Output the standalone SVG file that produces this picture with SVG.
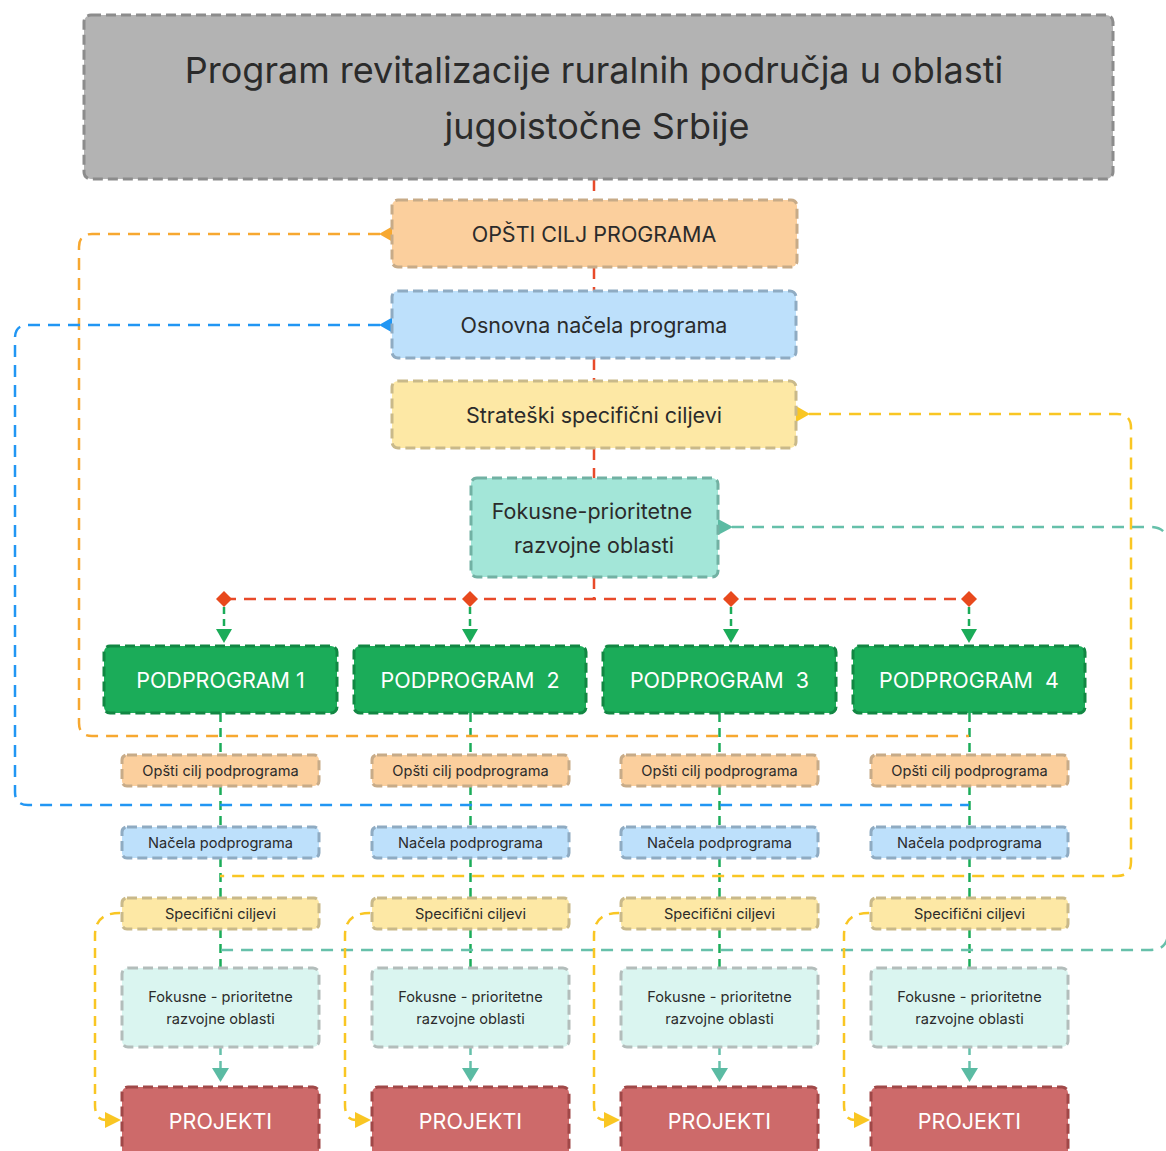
<svg xmlns="http://www.w3.org/2000/svg" width="1166" height="1151" viewBox="0 0 1166 1151">
<defs>
<style>
text{font-family:Inter,"Noto Sans","Liberation Sans",sans-serif;text-anchor:middle;dominant-baseline:central;fill:#2b2b2b}
.nd{stroke-width:3;stroke-dasharray:10 5}
.title{fill:#b3b3b3;stroke:#8c8c8c}
.opc{fill:#fbcf9d;stroke:#c7ab88}
.nac{fill:#bde0fb;stroke:#8fabc2}
.str{fill:#fde8a5;stroke:#c9b98a}
.fok{fill:#a3e6d8;stroke:#72b1a3}
.pod{fill:#1bac59;stroke:#128743}
.fks{fill:#daf5f0;stroke:#b3bdbb}
.prj{fill:#cd6a6a;stroke:#a04848}
.w{fill:#ffffff}
.c{fill:none;stroke-width:2.5;stroke-dasharray:12 8}
.red{stroke:#e84a2a}
.grn{stroke:#1bac59}
.org{stroke:#f7a830}
.blu{stroke:#2196f3}
.yel{stroke:#f9c623}
.tel{stroke:#66c0aa}
.big{font-size:21.5px}
.sm{font-size:14.6px}
</style>
</defs>

<g id="connectors">
  <path class="c red" d="M594,179 V200 M594,267 V291 M594,358 V381 M594,448 V478 M594,577 V599"/>
  <path class="c red" d="M224,599 H969"/>
  <g fill="#e8491d">
    <polygon points="224,591 232,599 224,607 216,599"/>
    <polygon points="470,591 478,599 470,607 462,599"/>
    <polygon points="731,591 739,599 731,607 723,599"/>
    <polygon points="969,591 977,599 969,607 961,599"/>
  </g>
  <path class="c grn" style="stroke-dasharray:7 5" d="M224,607 V630 M470,607 V630 M731,607 V630 M969,607 V630"/>
  <g fill="#1bac59">
    <polygon points="216,629 232,629 224,643"/>
    <polygon points="462,629 478,629 470,643"/>
    <polygon points="723,629 739,629 731,643"/>
    <polygon points="961,629 977,629 969,643"/>
  </g>
  <path class="c grn" style="stroke-dasharray:9 6" d="M220.5,713 V755 M220.5,786 V827 M220.5,858 V898 M220.5,929 V968"/>
  <path class="c grn" style="stroke-dasharray:9 6" d="M470.5,713 V755 M470.5,786 V827 M470.5,858 V898 M470.5,929 V968"/>
  <path class="c grn" style="stroke-dasharray:9 6" d="M719.5,713 V755 M719.5,786 V827 M719.5,858 V898 M719.5,929 V968"/>
  <path class="c grn" style="stroke-dasharray:9 6" d="M969.5,713 V755 M969.5,786 V827 M969.5,858 V898 M969.5,929 V968"/>
  <path class="c tel" style="stroke-dasharray:8 6" d="M220.5,1047 V1068 M470.5,1047 V1068 M719.5,1047 V1068 M969.5,1047 V1068"/>
  <g fill="#5bbba3">
    <polygon points="212,1068 229,1068 220.5,1082"/>
    <polygon points="462,1068 479,1068 470.5,1082"/>
    <polygon points="711,1068 728,1068 719.5,1082"/>
    <polygon points="961,1068 978,1068 969.5,1082"/>
  </g>
  <path class="c org" d="M380,234 H92 Q79,234 79,247 V723 Q79,736 92,736 H969"/>
  <polygon points="379,234 393,226 393,242" fill="#f7a830"/>
  <path class="c blu" d="M380,325 H28 Q15,325 15,338 V792 Q15,805 28,805 H969"/>
  <polygon points="379,325 393,317 393,333" fill="#2196f3"/>
  <path class="c yel" d="M809,414 H1117 Q1131,414 1131,428 V862 Q1131,876 1117,876 H220"/>
  <polygon points="810,414 796,406 796,422" fill="#f9c623"/>
  <path class="c tel" d="M732,527 H1150 Q1168,527 1168,545 V932 Q1168,950 1150,950 H220"/>
  <polygon points="733,527 718,519 718,535" fill="#5bbba3"/>
  <g>
    <path class="c yel" style="stroke-dasharray:10 7" d="M120,913 Q95,913 95,935 V1105 Q95,1120 106,1120"/>
    <polygon points="105,1112 121,1120 105,1128" fill="#f9c623"/>
    <path class="c yel" style="stroke-dasharray:10 7" d="M370,913 Q345,913 345,935 V1105 Q345,1120 356,1120"/>
    <polygon points="355,1112 371,1120 355,1128" fill="#f9c623"/>
    <path class="c yel" style="stroke-dasharray:10 7" d="M619,913 Q594,913 594,935 V1105 Q594,1120 605,1120"/>
    <polygon points="604,1112 620,1120 604,1128" fill="#f9c623"/>
    <path class="c yel" style="stroke-dasharray:10 7" d="M869,913 Q844,913 844,935 V1105 Q844,1120 855,1120"/>
    <polygon points="854,1112 870,1120 854,1128" fill="#f9c623"/>
  </g>
</g>

<g id="title">
  <rect class="nd title" x="84" y="15" width="1029" height="164" rx="7"/>
  <text x="594" y="70" style="font-size:36px">Program revitalizacije ruralnih područja u oblasti</text>
  <text x="597" y="126" style="font-size:36px">jugoistočne Srbije</text>
</g>
<g id="opsti-cilj">
  <rect class="nd opc" x="392" y="200" width="405" height="67" rx="6"/>
  <text class="big" x="594" y="234">OPŠTI CILJ PROGRAMA</text>
</g>
<g id="osnovna-nacela">
  <rect class="nd nac" x="392" y="291" width="404" height="67" rx="6"/>
  <text class="big" x="594" y="325">Osnovna načela programa</text>
</g>
<g id="strateski">
  <rect class="nd str" x="392" y="381" width="404" height="67" rx="6"/>
  <text class="big" x="594" y="415">Strateški specifični ciljevi</text>
</g>
<g id="fokusne">
  <rect class="nd fok" x="471" y="478" width="247" height="99" rx="6"/>
  <text class="big" x="592" y="511">Fokusne-prioritetne</text>
  <text class="big" x="594" y="545">razvojne oblasti</text>
</g>

<g id="podprogram-1">
  <rect class="nd pod" x="104" y="646" width="233" height="67" rx="6"/>
  <text class="w big" x="220.5" y="680">PODPROGRAM 1</text>
</g>
<g id="podprogram-2">
  <rect class="nd pod" x="354" y="646" width="232" height="67" rx="6"/>
  <text class="w big" x="470" y="680" xml:space="preserve">PODPROGRAM  2</text>
</g>
<g id="podprogram-3">
  <rect class="nd pod" x="603" y="646" width="233" height="67" rx="6"/>
  <text class="w big" x="719.5" y="680" xml:space="preserve">PODPROGRAM  3</text>
</g>
<g id="podprogram-4">
  <rect class="nd pod" x="853" y="646" width="232" height="67" rx="6"/>
  <text class="w big" x="969" y="680" xml:space="preserve">PODPROGRAM  4</text>
</g>

<g id="col1">
  <g id="opsti-1"><rect class="nd opc" x="122" y="755" width="197" height="31" rx="5"/><text class="sm" x="220.5" y="770.5">Opšti cilj podprograma</text></g>
  <g id="nacela-1"><rect class="nd nac" x="122" y="827" width="197" height="31" rx="5"/><text class="sm" x="220.5" y="842.5">Načela podprograma</text></g>
  <g id="spec-1"><rect class="nd str" x="122" y="898" width="197" height="31" rx="5"/><text class="sm" x="220.5" y="913.5">Specifični ciljevi</text></g>
  <g id="fok-1"><rect class="nd fks" x="122" y="968" width="197" height="79" rx="6"/><text class="sm" x="220.5" y="997">Fokusne - prioritetne</text><text class="sm" x="220.5" y="1019">razvojne oblasti</text></g>
  <g id="proj-1"><rect class="nd prj" x="122" y="1087" width="197" height="80" rx="6"/><text class="w big" x="220.5" y="1121">PROJEKTI</text></g>
</g>
<g id="col2">
  <g id="opsti-2"><rect class="nd opc" x="372" y="755" width="197" height="31" rx="5"/><text class="sm" x="470.5" y="770.5">Opšti cilj podprograma</text></g>
  <g id="nacela-2"><rect class="nd nac" x="372" y="827" width="197" height="31" rx="5"/><text class="sm" x="470.5" y="842.5">Načela podprograma</text></g>
  <g id="spec-2"><rect class="nd str" x="372" y="898" width="197" height="31" rx="5"/><text class="sm" x="470.5" y="913.5">Specifični ciljevi</text></g>
  <g id="fok-2"><rect class="nd fks" x="372" y="968" width="197" height="79" rx="6"/><text class="sm" x="470.5" y="997">Fokusne - prioritetne</text><text class="sm" x="470.5" y="1019">razvojne oblasti</text></g>
  <g id="proj-2"><rect class="nd prj" x="372" y="1087" width="197" height="80" rx="6"/><text class="w big" x="470.5" y="1121">PROJEKTI</text></g>
</g>
<g id="col3">
  <g id="opsti-3"><rect class="nd opc" x="621" y="755" width="197" height="31" rx="5"/><text class="sm" x="719.5" y="770.5">Opšti cilj podprograma</text></g>
  <g id="nacela-3"><rect class="nd nac" x="621" y="827" width="197" height="31" rx="5"/><text class="sm" x="719.5" y="842.5">Načela podprograma</text></g>
  <g id="spec-3"><rect class="nd str" x="621" y="898" width="197" height="31" rx="5"/><text class="sm" x="719.5" y="913.5">Specifični ciljevi</text></g>
  <g id="fok-3"><rect class="nd fks" x="621" y="968" width="197" height="79" rx="6"/><text class="sm" x="719.5" y="997">Fokusne - prioritetne</text><text class="sm" x="719.5" y="1019">razvojne oblasti</text></g>
  <g id="proj-3"><rect class="nd prj" x="621" y="1087" width="197" height="80" rx="6"/><text class="w big" x="719.5" y="1121">PROJEKTI</text></g>
</g>
<g id="col4">
  <g id="opsti-4"><rect class="nd opc" x="871" y="755" width="197" height="31" rx="5"/><text class="sm" x="969.5" y="770.5">Opšti cilj podprograma</text></g>
  <g id="nacela-4"><rect class="nd nac" x="871" y="827" width="197" height="31" rx="5"/><text class="sm" x="969.5" y="842.5">Načela podprograma</text></g>
  <g id="spec-4"><rect class="nd str" x="871" y="898" width="197" height="31" rx="5"/><text class="sm" x="969.5" y="913.5">Specifični ciljevi</text></g>
  <g id="fok-4"><rect class="nd fks" x="871" y="968" width="197" height="79" rx="6"/><text class="sm" x="969.5" y="997">Fokusne - prioritetne</text><text class="sm" x="969.5" y="1019">razvojne oblasti</text></g>
  <g id="proj-4"><rect class="nd prj" x="871" y="1087" width="197" height="80" rx="6"/><text class="w big" x="969.5" y="1121">PROJEKTI</text></g>
</g>
</svg>
